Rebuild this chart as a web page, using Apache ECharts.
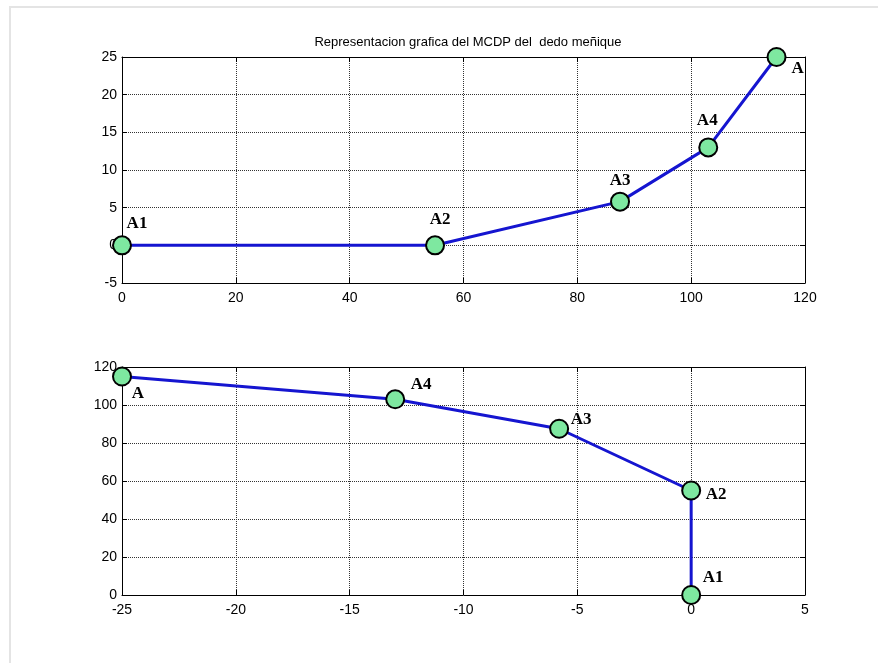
<!DOCTYPE html>
<html>
<head>
<meta charset="utf-8">
<title>MCDP dedo meñique</title>
<script src="https://cdn.jsdelivr.net/npm/echarts@6/dist/echarts.min.js"></script>
<style>
  html, body { margin: 0; padding: 0; background: #fff; }
  #chart { width: 878px; height: 664px; }
</style>
</head>
<body>
<div id="chart"></div>
<script>
// puntos del dedo (x horizontal, y vertical)
const names = ['A1', 'A2', 'A3', 'A4', 'A'];
const topX = [0, 55, 87.5, 103, 115];
const topY = [0, 0, 5.8, 13, 25];
const bottomX = [0, 0, -5.8, -13, -25];
const bottomY = [0, 55, 87.5, 103, 115];

// offsets de las etiquetas en px
const topOffsets = [[15, -22], [5, -26], [0, -21], [-1, -27], [21, 12]];
const bottomOffsets = [[22, -17], [25, 4], [22, -9], [26, -15], [16, 17]];

const axisFont = { fontFamily: 'Liberation Sans', fontSize: 14, color: '#000' };

function pts(xs, ys, offs) {
  return xs.map((x, i) => ({
    value: [x, ys[i]],
    label: {
      show: true,
      formatter: names[i],
      position: 'inside',
      offset: offs[i],
      fontFamily: 'Liberation Serif',
      fontWeight: 'bold',
      fontSize: 17,
      color: '#000'
    }
  }));
}

function xAx(gi, min, max, interval, pos, showLabel) {
  return {
    type: 'value', gridIndex: gi, min: min, max: max, interval: interval,
    position: pos,
    axisLine: { show: true, onZero: false, lineStyle: { color: '#000', width: 1 } },
    axisTick: { show: true, inside: true, length: 5, lineStyle: { color: '#000' } },
    axisLabel: Object.assign({ show: showLabel, margin: 8 }, axisFont),
    splitLine: { show: showLabel, lineStyle: { color: '#333', type: 'dotted', width: 1 } }
  };
}

function yAx(gi, min, max, interval, pos, showLabel) {
  return {
    type: 'value', gridIndex: gi, min: min, max: max, interval: interval,
    position: pos,
    axisLine: { show: true, onZero: false, lineStyle: { color: '#000', width: 1 } },
    axisTick: { show: true, inside: true, length: 5, lineStyle: { color: '#000' } },
    axisLabel: Object.assign({ show: showLabel, margin: 5 }, axisFont),
    splitLine: { show: showLabel, lineStyle: { color: '#333', type: 'dotted', width: 1 } }
  };
}

function lineSeries(xi, yi, data) {
  return {
    type: 'line', xAxisIndex: xi, yAxisIndex: yi, data: data,
    symbol: 'circle', symbolSize: 18,
    lineStyle: { color: '#1515d0', width: 3 },
    itemStyle: { color: '#7ee8a0', borderColor: '#000', borderWidth: 2 },
    animation: false, z: 5
  };
}

const chart = echarts.init(document.getElementById('chart'));
chart.setOption({
  backgroundColor: '#fff',
  animation: false,
  title: {
    text: 'Representacion grafica del MCDP del  dedo meñique',
    left: 463, top: 31, textAlign: 'center',
    textStyle: { fontFamily: 'Liberation Sans', fontSize: 13, fontWeight: 'normal', color: '#000' }
  },
  graphic: [{
    type: 'polyline',
    shape: { points: [[10, 663], [10, 7], [878, 7]] },
    style: { stroke: '#e4e4e4', lineWidth: 2, fill: null }
  }],
  grid: [
    { left: 122, right: 73, top: 57, bottom: 381 },
    { left: 122, right: 73, top: 367, bottom: 69 }
  ],
  xAxis: [
    xAx(0, 0, 120, 20, 'bottom', true),
    xAx(0, 0, 120, 20, 'top', false),
    xAx(1, -25, 5, 5, 'bottom', true),
    xAx(1, -25, 5, 5, 'top', false)
  ],
  yAxis: [
    yAx(0, -5, 25, 5, 'left', true),
    yAx(0, -5, 25, 5, 'right', false),
    yAx(1, 0, 120, 20, 'left', true),
    yAx(1, 0, 120, 20, 'right', false)
  ],
  series: [
    lineSeries(0, 0, pts(topX, topY, topOffsets)),
    lineSeries(2, 2, pts(bottomX, bottomY, bottomOffsets))
  ]
});
</script>
</body>
</html>
